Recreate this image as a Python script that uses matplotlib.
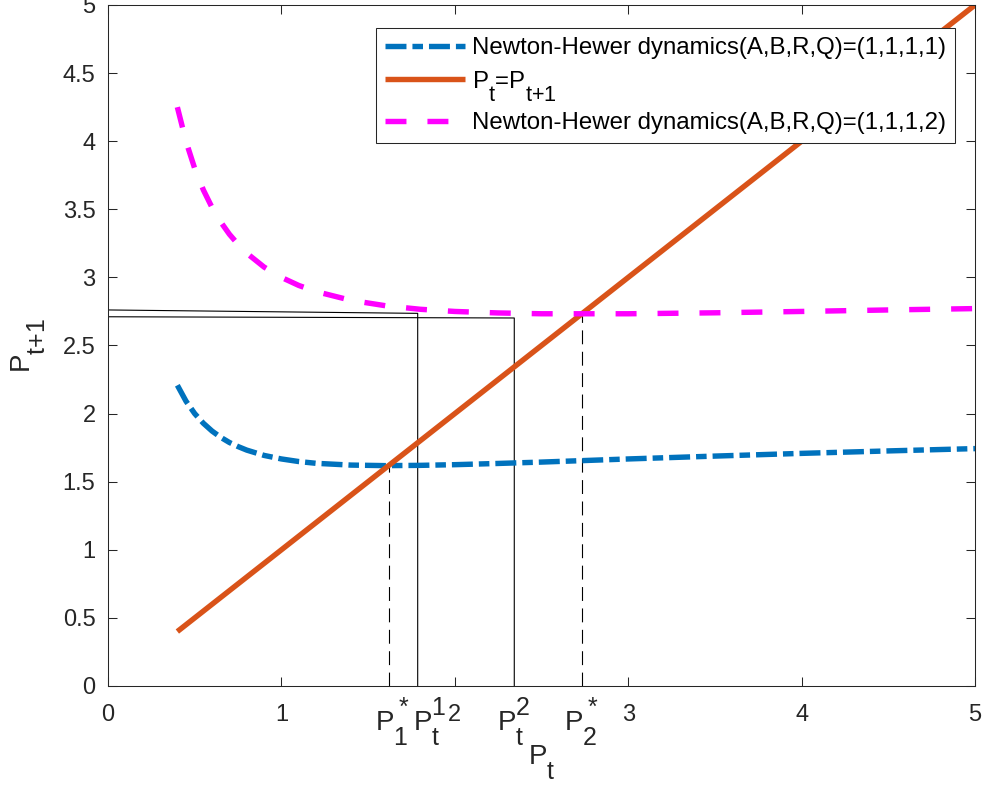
import matplotlib
matplotlib.use('Agg')
import matplotlib.pyplot as plt

try:
    import matplotlib._mathtext as _mt
    _mt.SHRINK_FACTOR = 0.9
    _mt.FontConstantsBase.sub1 = 1.0
    _mt.FontConstantsBase.sub2 = 1.0
    _mt.FontConstantsBase.sup1 = 1.0
except Exception:
    pass

plt.rcParams['font.family'] = ['Liberation Sans', 'DejaVu Sans']
plt.rcParams['mathtext.fontset'] = 'custom'
plt.rcParams['mathtext.rm'] = 'Liberation Sans'
plt.rcParams['mathtext.it'] = 'Liberation Sans'
plt.rcParams['mathtext.default'] = 'rm'
plt.rcParams['lines.scale_dashes'] = False

# ---------------- data ----------------
p_grid = [0.4, 0.45, 0.5, 0.55, 0.6, 0.65, 0.7, 0.75, 0.8, 0.9, 1.0, 1.1, 1.2,
          1.4, 1.6, 1.8, 2.0, 2.25, 2.5, 3.0, 3.5, 4.0, 4.5, 5.0]
nh_q1 = [2.208, 2.091, 2.000, 1.929, 1.872, 1.826, 1.788, 1.758, 1.732, 1.693,
         1.667, 1.648, 1.635, 1.622, 1.618, 1.620, 1.625, 1.634, 1.644, 1.667,
         1.688, 1.708, 1.726, 1.743]
nh_q2 = [4.250, 3.998, 3.800, 3.642, 3.513, 3.407, 3.317, 3.243, 3.178, 3.076,
         3.000, 2.941, 2.896, 2.832, 2.792, 2.766, 2.750, 2.739, 2.733, 2.733,
         2.740, 2.750, 2.761, 2.771]
identity_x = [0.4, 5.0]
identity_y = [0.4, 5.0]

# fixed points and iterates
p1_star = 1.618
p2_star = 2.732
pt1 = 1.786
pt2 = 2.343
# black iterate guides: (y at P=0, y at P=iterate)
pt1_levels = [2.761, 2.736]
pt2_levels = [2.711, 2.702]

x_ticks = [0, 1, 2, 3, 4, 5]
x_tick_labels = ['0', '1', '2', '3', '4', '5']
y_ticks = [0, 0.5, 1, 1.5, 2, 2.5, 3, 3.5, 4, 4.5, 5]
y_tick_labels = ['0', '0.5', '1', '1.5', '2', '2.5', '3', '3.5', '4', '4.5', '5']

point_labels = [r'$P^*_1$', r'$P^1_t$', r'$P^2_t$', r'$P^*_2$']
point_label_x = [1.540, 1.759, 2.243, 2.630]

series_labels = ['Newton-Hewer dynamics(A,B,R,Q)=(1,1,1,1)',
                 r'$P_t$=$P_{t\text{+}1}$',
                 'Newton-Hewer dynamics(A,B,R,Q)=(1,1,1,2)']

# ---------------- figure ----------------
W, H = 984, 786
fig = plt.figure(figsize=(W / 100, H / 100), dpi=100)
ax = fig.add_axes([108 / W, 1 - 686 / H, (975 - 108) / W, (686 - 5) / H])

blue = '#0072BD'
orange = '#D95319'
magenta = '#FF00FF'
lw = 3.9

# black guides
ax.plot([0, pt1, pt1], [pt1_levels[0], pt1_levels[1], 0], color='black', lw=0.8)
ax.plot([0, pt2, pt2], [pt2_levels[0], pt2_levels[1], 0], color='black', lw=0.8)
ax.plot([p1_star, p1_star], [0, p1_star], color='black', lw=0.8,
        dashes=(10, 5.4))
ax.plot([p2_star, p2_star], [0, p2_star], color='black', lw=0.8,
        dashes=(10, 5.4))

l1, = ax.plot(p_grid, nh_q1, color=blue, lw=lw, dashes=(15.1, 4.3, 7.6, 4.3),
              dash_capstyle='butt', label=series_labels[0])
l2, = ax.plot(identity_x, identity_y, color=orange, lw=lw,
              solid_capstyle='butt', label=series_labels[1])
l3, = ax.plot(p_grid, nh_q2, color=magenta, lw=lw, dashes=(15.1, 15.1),
              dash_capstyle='butt', label=series_labels[2])

ax.set_xlim(0, 5)
ax.set_ylim(0, 5)
ax.set_xticks(x_ticks)
ax.set_xticklabels(x_tick_labels)
ax.set_yticks(y_ticks)
ax.set_yticklabels(y_tick_labels)
ax.tick_params(direction='in', length=6.5, width=0.75, top=True, right=True,
               labelsize=17, colors='#262626')
ax.tick_params(axis='x', pad=13)
ax.tick_params(axis='y', pad=9)
for s in ax.spines.values():
    s.set_linewidth(0.75)
    s.set_color('#262626')

# point labels on the x axis
for lab, xp in zip(point_labels, point_label_x):
    ax.text(xp, -44 / 136.2, lab, fontsize=20, ha='left', va='baseline',
            color='#262626')

ax.set_xlabel(r'$P_t$', fontsize=20, color='#262626', labelpad=12)
ax.set_ylabel(r'$P_{t\text{+}1}$', fontsize=20, color='#262626', labelpad=11)

leg = ax.legend(handles=[l1, l2, l3], loc='upper right',
                bbox_to_anchor=(955 / W, 1 - 28 / H),
                bbox_transform=fig.transFigure, borderaxespad=0,
                fontsize=17.3, handlelength=3.33, handletextpad=0.28,
                labelspacing=0.4, borderpad=0.38, fancybox=False,
                framealpha=1, edgecolor='#262626')
leg.get_frame().set_linewidth(0.75)
for t in leg.get_texts():
    t.set_color('black')

fig.savefig('out.png', dpi=100)
